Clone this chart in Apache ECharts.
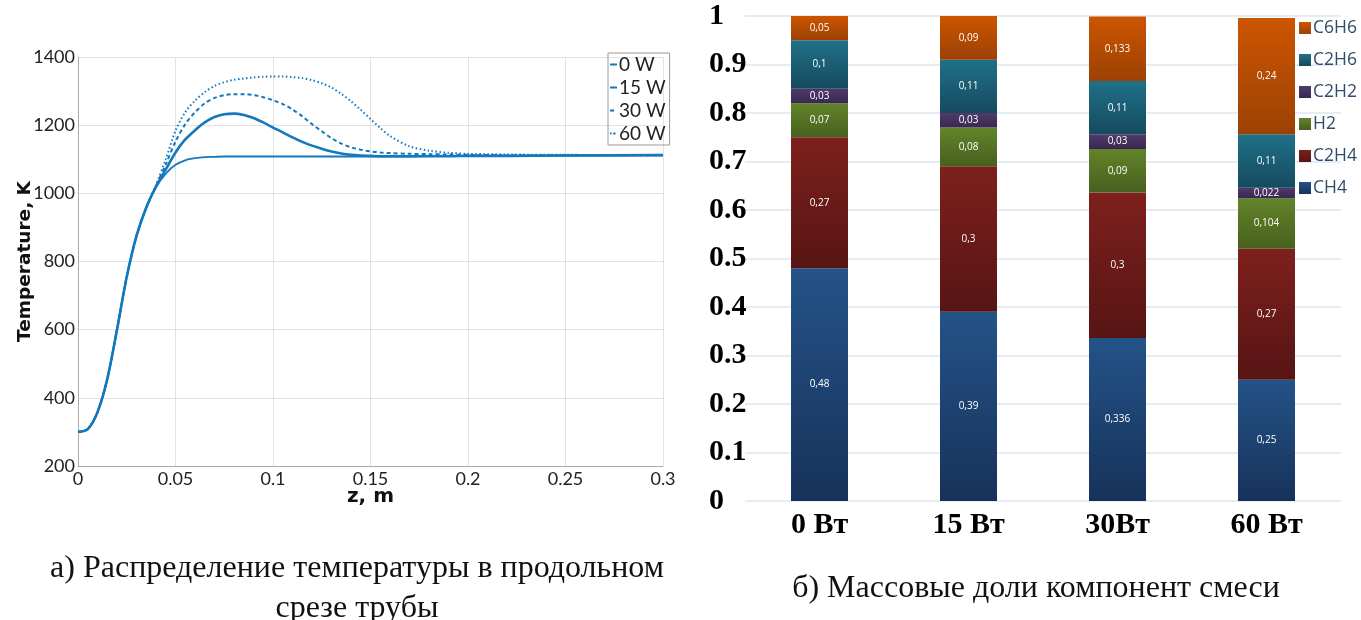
<!DOCTYPE html>
<html>
<head>
<meta charset="utf-8">
<title>Temperature and mass fractions</title>
<script src="https://cdn.jsdelivr.net/npm/echarts@6/dist/echarts.min.js"></script>
<style>
  html, body { margin: 0; padding: 0; background: #fff; }
  #chart { width: 1361px; height: 620px; }
</style>
</head>
<body>
<div id="chart"></div>
<script>
// temperature along the tube, z in metres
const zPoints = [0, 0.005, 0.01, 0.015, 0.02, 0.025, 0.03, 0.035, 0.04, 0.045, 0.05, 0.055, 0.06, 0.065, 0.07, 0.075,
  0.08, 0.085, 0.09, 0.095, 0.1, 0.105, 0.11, 0.115, 0.12, 0.125, 0.13, 0.135, 0.14, 0.145, 0.15, 0.155, 0.16,
  0.17, 0.18, 0.19, 0.2, 0.22, 0.25, 0.3]
const temp0W = [300, 308, 358, 455, 600, 755, 875, 958, 1018, 1058, 1084, 1097, 1103, 1106, 1107, 1108,
  1108, 1108, 1108, 1108, 1108, 1108, 1108, 1108, 1108, 1108, 1108, 1108, 1108, 1108, 1108, 1108, 1108,
  1108, 1109, 1109, 1109, 1110, 1111, 1112]
const temp15W = [300, 308, 358, 455, 600, 755, 875, 958, 1020, 1070, 1120, 1158, 1185, 1208, 1224, 1232,
  1234, 1230, 1221, 1208, 1193, 1179, 1164, 1151, 1140, 1131, 1123, 1117, 1113, 1111, 1110, 1109, 1109,
  1109, 1109, 1109, 1110, 1110, 1111, 1112]
const temp30W = [300, 308, 358, 455, 600, 755, 875, 958, 1022, 1085, 1152, 1203, 1238, 1264, 1280, 1288,
  1291, 1291, 1288, 1282, 1273, 1262, 1246, 1226, 1203, 1182, 1162, 1146, 1135, 1128, 1123, 1120, 1118,
  1116, 1115, 1114, 1113, 1112, 1112, 1112]
const temp60W = [300, 308, 358, 455, 600, 755, 875, 958, 1024, 1100, 1184, 1238, 1272, 1297, 1315, 1326,
  1333, 1337, 1340, 1342, 1343, 1343, 1341, 1338, 1332, 1323, 1310, 1292, 1270, 1245, 1218, 1192, 1168,
  1138, 1125, 1119, 1116, 1114, 1113, 1112]
const powerNames = ['0 W', '15 W', '30 W', '60 W']

// mass fractions of the mixture
const powerCats = ['0 Вт', '15 Вт', '30Вт', '60 Вт']
const ch4 = [0.48, 0.39, 0.336, 0.25]
const c2h4 = [0.27, 0.3, 0.3, 0.27]
const h2 = [0.07, 0.08, 0.09, 0.104]
const c2h2 = [0.03, 0.03, 0.03, 0.022]
const c2h6 = [0.1, 0.11, 0.11, 0.11]
const c6h6 = [0.05, 0.09, 0.133, 0.24]
const compNames = ['CH4', 'C2H4', 'H2', 'C2H2', 'C2H6', 'C6H6']

const lineBlue = '#1279be'
const serif = '"Liberation Serif", "Times New Roman", serif'

function pair(ys) {
  return zPoints.map((z, i) => [z, ys[i]])
}

function grad(top, bottom) {
  return {
    type: 'linear', x: 0, y: 0, x2: 0, y2: 1,
    colorStops: [{ offset: 0, color: top }, { offset: 1, color: bottom }],
  }
}

const lineStyles = [
  { width: 1.8, type: 'solid' },
  { width: 2.6, type: 'solid' },
  { width: 2, type: [4, 3] },
  { width: 2, type: [1.5, 2.5] },
]
const lineData = [temp0W, temp15W, temp30W, temp60W]

const compData = [ch4, c2h4, h2, c2h2, c2h6, c6h6]
const compColors = [
  grad('#245388', '#17325a'),
  grad('#7e201d', '#561514'),
  grad('#628429', '#48601f'),
  grad('#503a6c', '#382850'),
  grad('#1f7189', '#164a5e'),
  grad('#cc5500', '#9c4104'),
]
const legendColors = ['#1f4a7c', '#7a1f1c', '#5a7a26', '#4a3563', '#1b6a80', '#c45200']

const chart = echarts.init(document.getElementById('chart'), null, { renderer: 'canvas' })

const option = {
  animation: false,
  backgroundColor: '#fff',
  title: [
    {
      text: 'а) Распределение температуры в продольном\nсрезе трубы',
      left: 352, top: 544, textAlign: 'center',
      textStyle: { fontFamily: serif, fontWeight: 'normal', fontSize: 32, color: '#111', lineHeight: 40, align: 'center' },
    },
    {
      text: 'б) Массовые доли компонент смеси',
      left: 1031, top: 568, textAlign: 'center',
      textStyle: { fontFamily: serif, fontWeight: 'normal', fontSize: 32, color: '#111' },
    },
  ],
  legend: [
    {
      data: powerNames,
      orient: 'vertical',
      left: 608, top: 53,
      itemWidth: 7, itemHeight: 2, itemGap: 4,
      padding: [2, 4, 2, 1],
      borderColor: '#999', borderWidth: 1,
      textStyle: { fontFamily: 'Lato', fontSize: 19, color: '#222', padding: [0, 0, 0, -3] },
    },
    {
      data: compNames.slice().reverse(),
      orient: 'vertical',
      left: 1294, top: 14,
      itemWidth: 12, itemHeight: 12, itemGap: 14,
      icon: 'rect',
      textStyle: { fontFamily: '"Open Sans"', fontSize: 17.5, color: '#2f4b6d', padding: [0, 0, 0, -3] },
    },
  ],
  grid: [
    { left: 78, top: 57, width: 585, height: 409 },
    { left: 745, top: 16, width: 596, height: 485 },
  ],
  xAxis: [
    {
      gridIndex: 0, type: 'value', min: 0, max: 0.3, interval: 0.05,
      name: 'z, m', nameLocation: 'middle', nameGap: 21, nameMoveOverlap: false,
      nameTextStyle: { fontFamily: '"DejaVu Sans"', fontWeight: 'bold', fontSize: 20, color: '#111' },
      axisLine: { lineStyle: { color: '#aaa' } },
      axisTick: { show: false },
      axisLabel: { fontFamily: 'Lato', fontSize: 18, color: '#222', margin: 4 },
      splitLine: { lineStyle: { color: '#e2e2e2' } },
    },
    {
      gridIndex: 1, type: 'category', data: powerCats,
      axisLine: { show: false }, axisTick: { show: false },
      axisLabel: { fontFamily: serif, fontWeight: 'bold', fontSize: 30, color: '#000', margin: 9 },
    },
  ],
  yAxis: [
    {
      gridIndex: 0, type: 'value', min: 200, max: 1400, interval: 200,
      name: 'Temperature, K', nameLocation: 'middle', nameGap: 43, nameMoveOverlap: false,
      nameTextStyle: { fontFamily: '"DejaVu Sans"', fontWeight: 'bold', fontSize: 18.5, color: '#111' },
      axisLine: { show: true, lineStyle: { color: '#aaa' } },
      axisTick: { show: false },
      axisLabel: { fontFamily: 'Lato', fontSize: 18, color: '#222', margin: 3, formatter: (v) => String(v) },
      splitLine: { lineStyle: { color: '#e2e2e2' } },
    },
    {
      gridIndex: 1, type: 'value', min: 0, max: 1, interval: 0.1,
      axisLine: { show: false }, axisTick: { show: false },
      axisLabel: { fontFamily: serif, fontWeight: 'bold', fontSize: 30, color: '#000', align: 'left', margin: 36 },
      splitLine: { lineStyle: { color: '#dde6ef', width: 1.5 } },
    },
  ],
  series: [
    ...powerNames.map((name, i) => ({
      name,
      type: 'line',
      xAxisIndex: 0, yAxisIndex: 0,
      data: pair(lineData[i]),
      smooth: 0.3,
      symbol: 'none',
      color: lineBlue,
      lineStyle: { color: lineBlue, ...lineStyles[i] },
    })),
    ...compNames.map((name, i) => ({
      name,
      type: 'bar',
      stack: 'mix',
      xAxisIndex: 1, yAxisIndex: 1,
      barWidth: 57,
      data: compData[i],
      color: legendColors[i],
      itemStyle: { color: compColors[i] },
      label: {
        show: true, position: 'inside', color: '#fff',
        fontFamily: '"Open Sans"', fontSize: 10,
        formatter: (p) => String(p.value).replace('.', ','),
      },
    })),
  ],
}

chart.setOption(option)
</script>
</body>
</html>
